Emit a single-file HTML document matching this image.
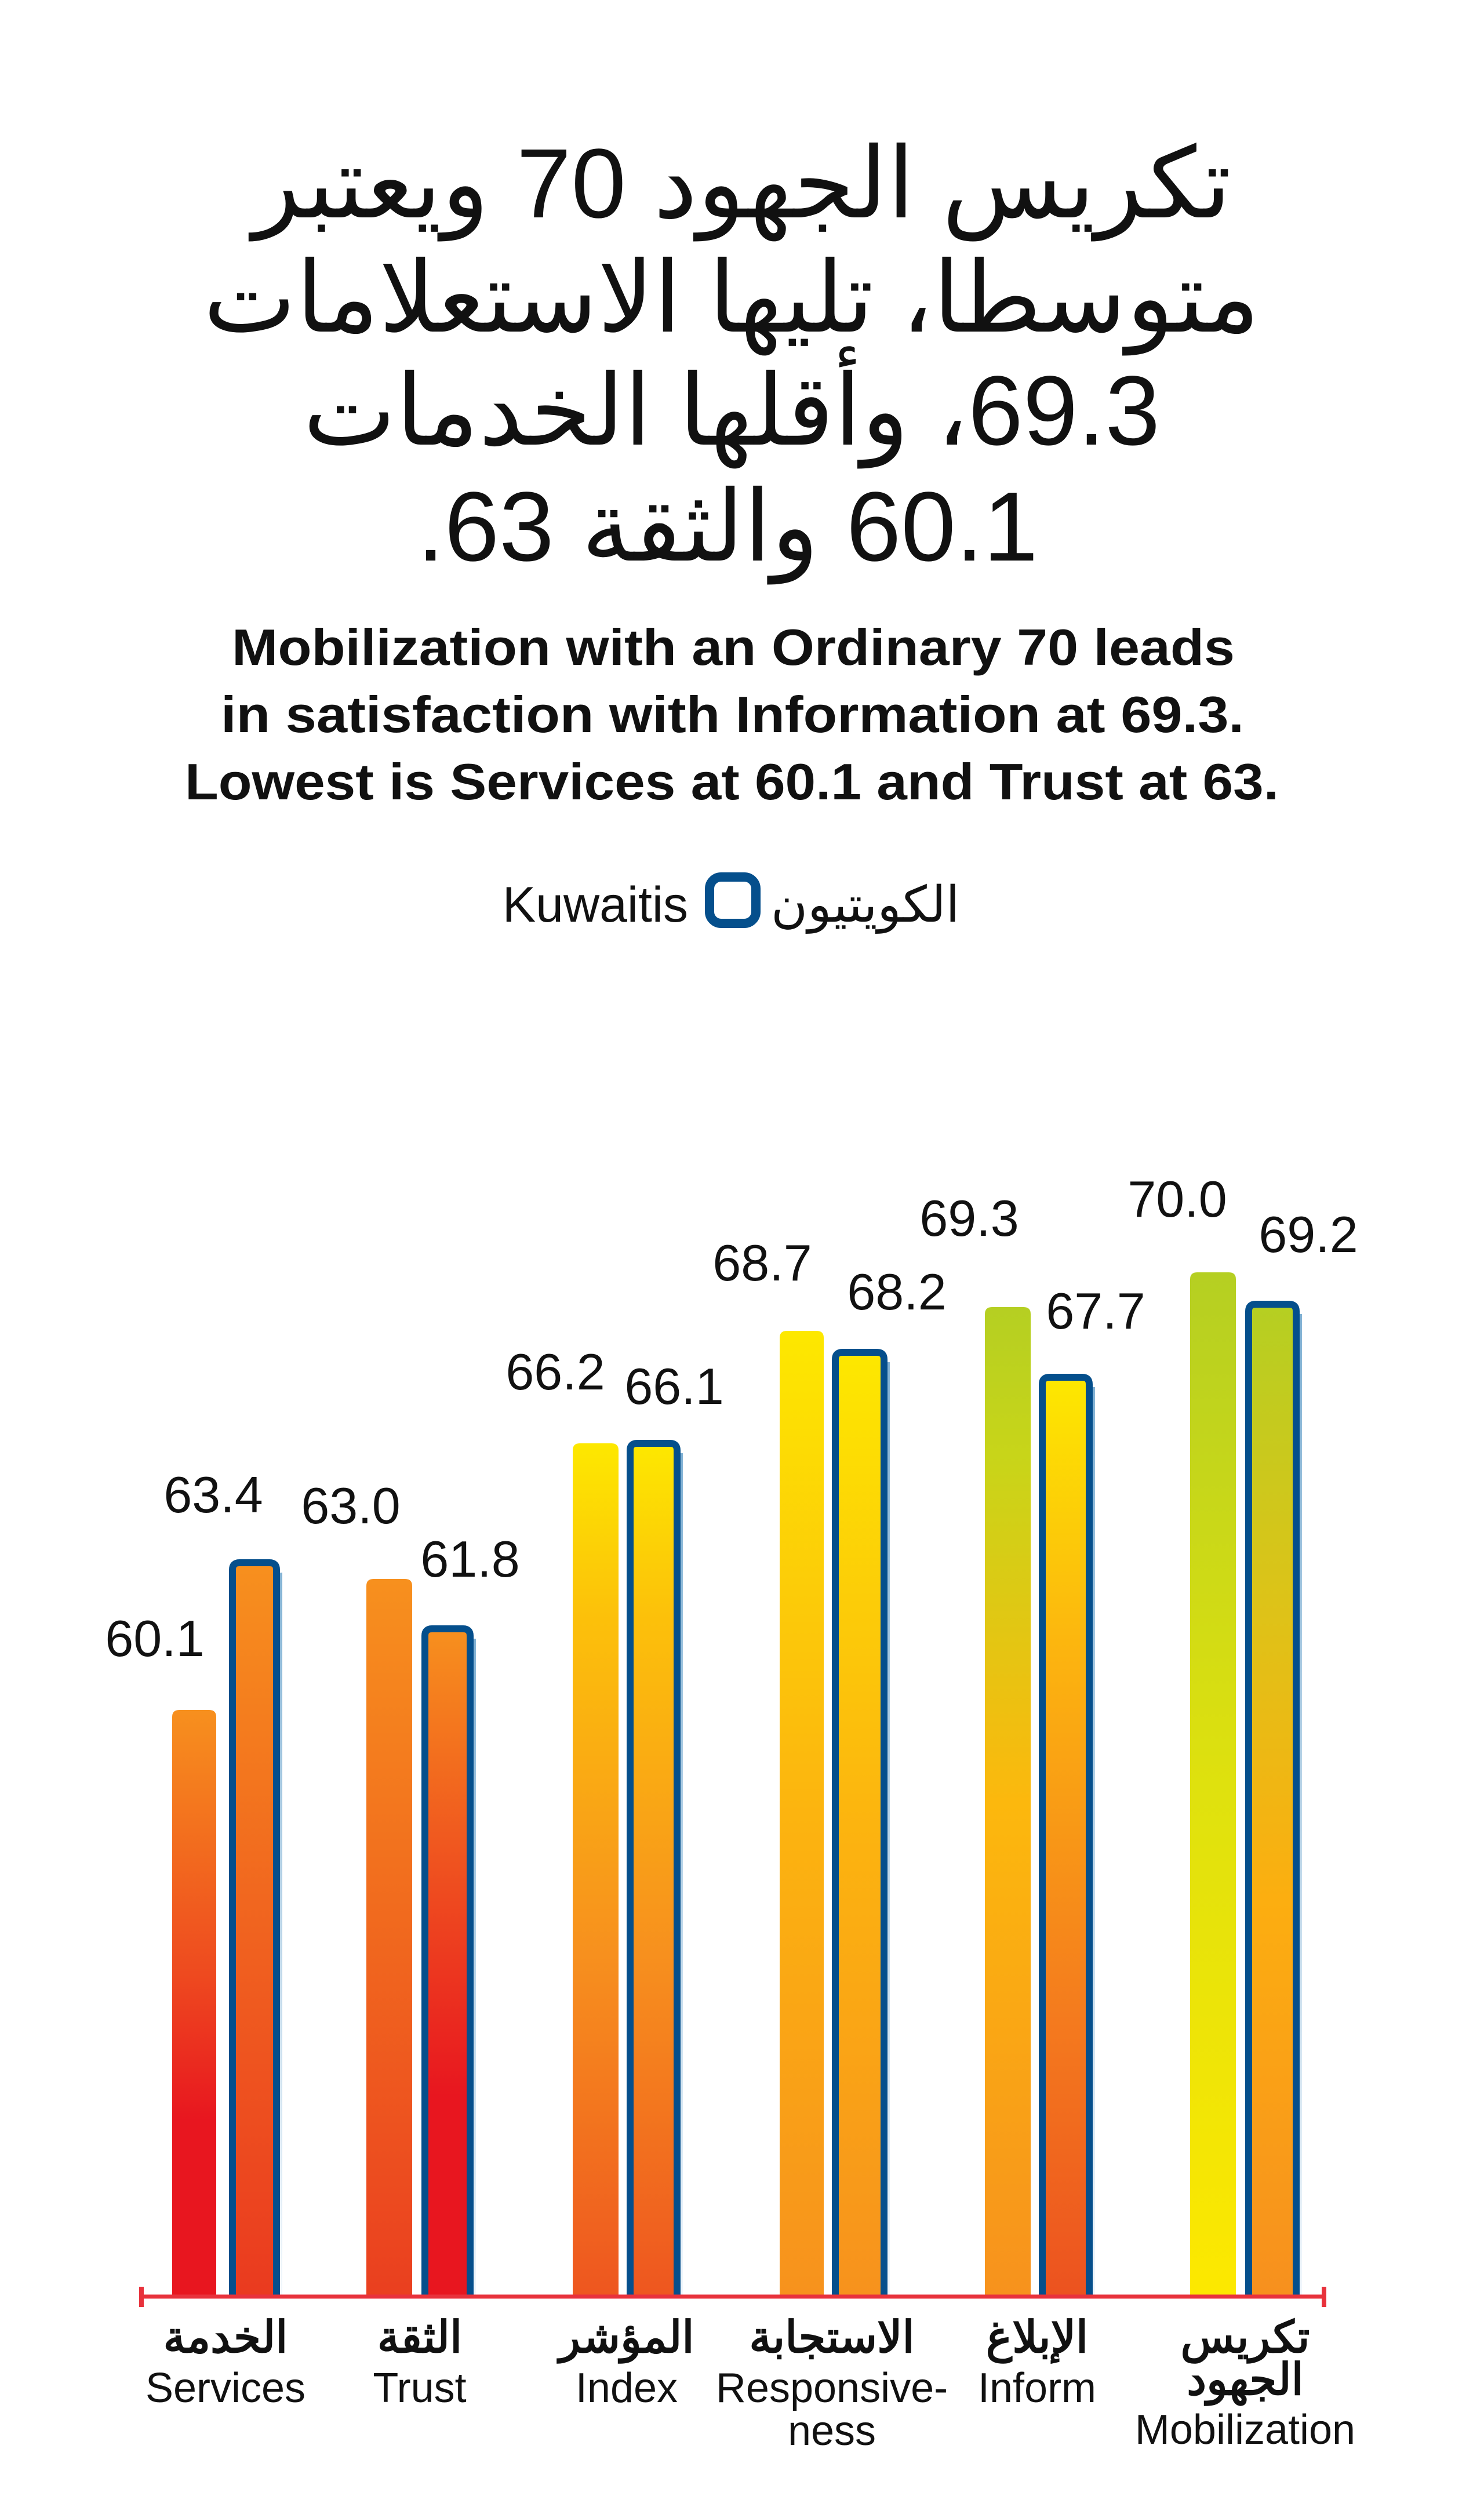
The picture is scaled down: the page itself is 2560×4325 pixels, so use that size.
<!DOCTYPE html>
<html><head><meta charset="utf-8">
<style>
html,body{margin:0;padding:0;background:#fff;}
body{width:2560px;height:4320px;overflow:hidden;}
svg text{font-family:"Liberation Sans","Noto Sans CJK SC",sans-serif;}
</style></head>
<body>
<svg width="2560" height="4320" viewBox="0 0 2560 4320" xmlns="http://www.w3.org/2000/svg">
<defs>
<linearGradient id="gS1" x1="0" y1="0" x2="0" y2="1"><stop offset="0" stop-color="#f7901e"/><stop offset="0.45" stop-color="#ee4a1f"/><stop offset="0.7" stop-color="#e8161f"/><stop offset="1" stop-color="#e8161f"/></linearGradient>
<linearGradient id="gS2" x1="0" y1="0" x2="0" y2="1"><stop offset="0" stop-color="#f7901e"/><stop offset="0.6" stop-color="#ef5a1f"/><stop offset="1" stop-color="#ea3a1f"/></linearGradient>
<linearGradient id="gT1" x1="0" y1="0" x2="0" y2="1"><stop offset="0" stop-color="#f7901e"/><stop offset="1" stop-color="#ea3f1f"/></linearGradient>
<linearGradient id="gT2" x1="0" y1="0" x2="0" y2="1"><stop offset="0" stop-color="#f7901e"/><stop offset="0.4" stop-color="#ee4a1f"/><stop offset="0.7" stop-color="#e8161f"/><stop offset="1" stop-color="#e8161f"/></linearGradient>
<linearGradient id="gI" x1="0" y1="0" x2="0" y2="1"><stop offset="0" stop-color="#fde800"/><stop offset="0.2" stop-color="#fcc10a"/><stop offset="0.6" stop-color="#f7901e"/><stop offset="1" stop-color="#ee561f"/></linearGradient>
<linearGradient id="gR" x1="0" y1="0" x2="0" y2="1"><stop offset="0" stop-color="#fde800"/><stop offset="0.5" stop-color="#fcb40f"/><stop offset="1" stop-color="#f7921d"/></linearGradient>
<linearGradient id="gF1" x1="0" y1="0" x2="0" y2="1"><stop offset="0" stop-color="#b5cf22"/><stop offset="0.15" stop-color="#c8d519"/><stop offset="0.5" stop-color="#fcb80d"/><stop offset="1" stop-color="#f7921d"/></linearGradient>
<linearGradient id="gF2" x1="0" y1="0" x2="0" y2="1"><stop offset="0" stop-color="#fde800"/><stop offset="0.3" stop-color="#fcb40f"/><stop offset="0.7" stop-color="#f47a1e"/><stop offset="1" stop-color="#ec521f"/></linearGradient>
<linearGradient id="gM1" x1="0" y1="0" x2="0" y2="1"><stop offset="0" stop-color="#b5cf22"/><stop offset="0.5" stop-color="#dfe10e"/><stop offset="1" stop-color="#fde800"/></linearGradient>
<linearGradient id="gM2" x1="0" y1="0" x2="0" y2="1"><stop offset="0" stop-color="#b5cf22"/><stop offset="0.3" stop-color="#ddc318"/><stop offset="0.6" stop-color="#fcae10"/><stop offset="1" stop-color="#f7901e"/></linearGradient>
<linearGradient id="shadow" x1="0" y1="0" x2="0" y2="1"><stop offset="0" stop-color="#2f7fb8"/><stop offset="1" stop-color="#e8f2fa"/></linearGradient>
</defs>

<!-- Title Arabic -->
<g font-size="170" text-anchor="middle" fill="#111">
<text x="1280" y="375" direction="rtl">تكريس الجهود 70 ويعتبر</text>
<text x="1262" y="572" direction="rtl">متوسطا، تليها الاستعلامات</text>
<text x="1262" y="767" direction="rtl">69.3، وأقلها الخدمات</text>
<text x="1255" y="967" direction="rtl">60.1 والثقة 63.</text>
</g>
<!-- English subtitle -->
<g font-size="88" font-weight="bold" fill="#111">
<text x="400" y="1147" textLength="1730" lengthAdjust="spacingAndGlyphs">Mobilization with an Ordinary 70 leads</text>
<text x="381" y="1263" textLength="1765" lengthAdjust="spacingAndGlyphs">in satisfaction with Information at 69.3.</text>
<text x="319" y="1379" textLength="1887" lengthAdjust="spacingAndGlyphs">Lowest is Services at 60.1 and Trust at 63.</text>
</g>
<!-- Legend -->
<text x="1187" y="1590" font-size="86" text-anchor="end" fill="#111">Kuwaitis</text>
<rect x="1224" y="1513" width="80" height="80" rx="20" fill="none" stroke="#054f8c" stroke-width="16"/>
<text x="1330" y="1590" font-size="86" fill="#111" direction="rtl" text-anchor="end">الكويتيون</text>

<!-- shadows -->
<g fill="url(#shadow)" opacity="0.6">
<rect x="477" y="2713" width="10" height="1249"/>
<rect x="811" y="2827" width="10" height="1135"/>
<rect x="1168" y="2507" width="10" height="1455"/>
<rect x="1525" y="2350" width="10" height="1612"/>
<rect x="1879" y="2393" width="10" height="1569"/>
<rect x="2236" y="2267" width="10" height="1695"/>
</g>
<g>
<path d="M297 3962 V2962 q0 -12 12 -12 h52 q12 0 12 12 V3962 Z" fill="url(#gS1)"/>
<path d="M401 3962 V2708 q0 -12 12 -12 h52 q12 0 12 12 V3962" fill="url(#gS2)" stroke="#054f8c" stroke-width="12"/>
<path d="M632 3962 V2736 q0 -12 12 -12 h55 q12 0 12 12 V3962 Z" fill="url(#gT1)"/>
<path d="M733 3962 V2822 q0 -12 12 -12 h54 q12 0 12 12 V3962" fill="url(#gT2)" stroke="#054f8c" stroke-width="12"/>
<path d="M988 3962 V2502 q0 -12 12 -12 h55 q12 0 12 12 V3962 Z" fill="url(#gI)"/>
<path d="M1087 3962 V2502 q0 -12 12 -12 h57 q12 0 12 12 V3962" fill="url(#gI)" stroke="#054f8c" stroke-width="12"/>
<path d="M1345 3962 V2308 q0 -12 12 -12 h52 q12 0 12 12 V3962 Z" fill="url(#gR)"/>
<path d="M1441 3962 V2345 q0 -12 12 -12 h60 q12 0 12 12 V3962" fill="url(#gR)" stroke="#054f8c" stroke-width="12"/>
<path d="M1699 3962 V2267 q0 -12 12 -12 h55 q12 0 12 12 V3962 Z" fill="url(#gF1)"/>
<path d="M1798 3962 V2388 q0 -12 12 -12 h57 q12 0 12 12 V3962" fill="url(#gF2)" stroke="#054f8c" stroke-width="12"/>
<path d="M2053 3962 V2207 q0 -12 12 -12 h55 q12 0 12 12 V3962 Z" fill="url(#gM1)"/>
<path d="M2154 3962 V2262 q0 -12 12 -12 h58 q12 0 12 12 V3962" fill="url(#gM2)" stroke="#054f8c" stroke-width="12"/>
</g>
<!-- Axis -->
<line x1="240" y1="3962" x2="2287" y2="3962" stroke="#e8323c" stroke-width="7"/>
<line x1="244" y1="3945" x2="244" y2="3980" stroke="#e8323c" stroke-width="8"/>
<line x1="2284" y1="3945" x2="2284" y2="3980" stroke="#e8323c" stroke-width="8"/>

<!-- Value labels -->
<g font-size="88" text-anchor="middle" fill="#111">
<text x="267" y="2857">60.1</text>
<text x="368" y="2609">63.4</text>
<text x="605" y="2628">63.0</text>
<text x="811" y="2720">61.8</text>
<text x="958" y="2397">66.2</text>
<text x="1163" y="2422">66.1</text>
<text x="1315" y="2209">68.7</text>
<text x="1547" y="2259">68.2</text>
<text x="1672" y="2132">69.3</text>
<text x="1890" y="2292">67.7</text>
<text x="2031" y="2099">70.0</text>
<text x="2257" y="2160">69.2</text>
</g>

<!-- Category labels -->
<g font-size="72" text-anchor="middle" fill="#111">
<g font-weight="bold" font-size="76">
<text x="389" y="4058">الخدمة</text>
<text x="724" y="4058">الثقة</text>
<text x="1081" y="4058">المؤشر</text>
<text x="1435" y="4058">الاستجابة</text>
<text x="1789" y="4058">الإبلاغ</text>
<text x="2148" y="4058">تكريس</text>
<text x="2148" y="4131">الجهود</text>
</g>
<text x="389" y="4144">Services</text>
<text x="724" y="4144">Trust</text>
<text x="1081" y="4144">Index</text>
<text x="1435" y="4144">Responsive-</text>
<text x="1435" y="4218">ness</text>
<text x="1789" y="4144">Inform</text>
<text x="2148" y="4216">Mobilization</text>
</g>
</svg>
</body></html>
